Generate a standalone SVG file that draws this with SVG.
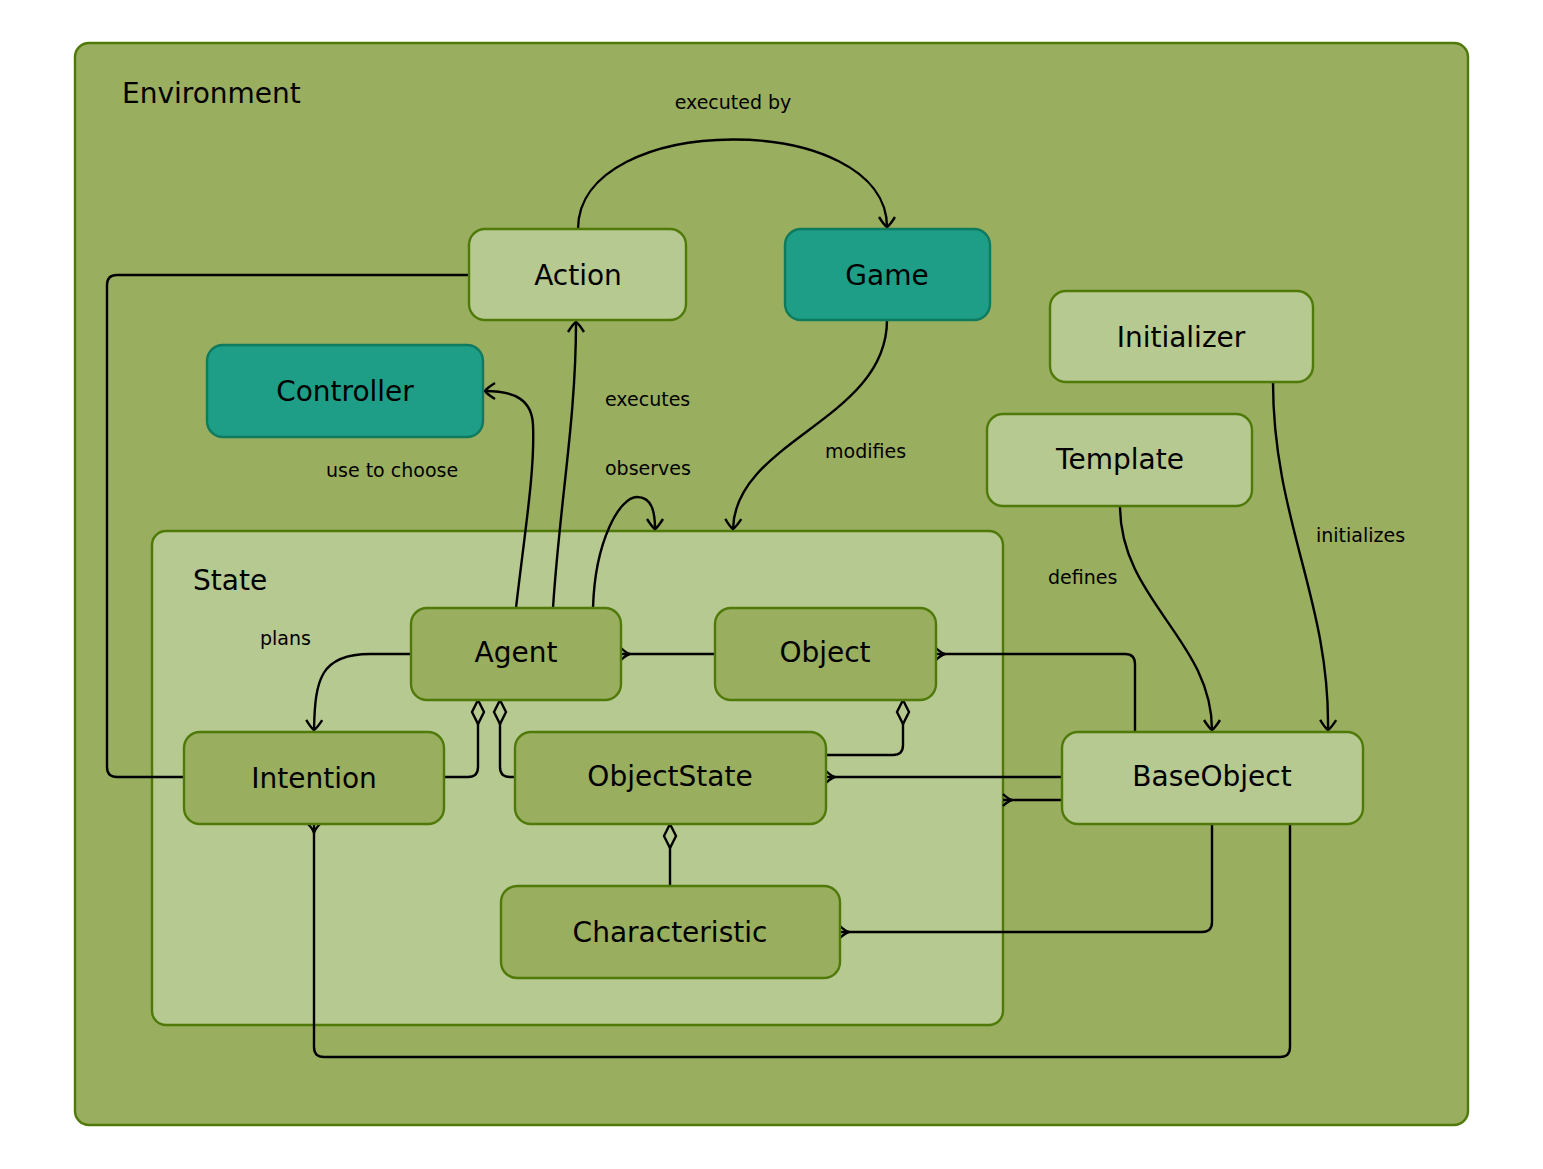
<svg xmlns="http://www.w3.org/2000/svg" width="1543" height="1169" viewBox="0 0 1543 1169">
<style>
.c{fill:none;stroke:#000;stroke-width:2.4}
.n{font-family:"DejaVu Sans",sans-serif;font-size:28px;text-anchor:middle;dominant-baseline:central}
.l{font-family:"DejaVu Sans",sans-serif;font-size:19px}
.dk{fill:#99ae5e;stroke:#4f7a0a;stroke-width:2.4}
.lt{fill:#b6c990;stroke:#4f7a0a;stroke-width:2.4}
.tl{fill:#1e9e87;stroke:#0e7a5e;stroke-width:2.4}
</style>
<defs>
<marker id="ar" markerUnits="userSpaceOnUse" orient="auto" overflow="visible" markerWidth="20" markerHeight="20"><path d="M-10,-8 Q-2,-3 0,0 Q-2,3 -10,8" fill="none" stroke="#000" stroke-width="2.4"/></marker>
<marker id="dm" markerUnits="userSpaceOnUse" orient="auto" overflow="visible" markerWidth="30" markerHeight="20"><path d="M0,0 L12,-6 L24,0 L12,6 Z" fill="#b6c990" stroke="#000" stroke-width="2.4"/></marker>
<marker id="cf" markerUnits="userSpaceOnUse" orient="auto" overflow="visible" markerWidth="20" markerHeight="20"><path d="M0,-6 Q5,-1 9,0 Q5,1 0,6" fill="none" stroke="#000" stroke-width="2.4"/></marker>
</defs>
<rect x="0" y="0" width="1543" height="1169" fill="#fff"/>
<g id="Environment"><rect x="75" y="43" width="1393" height="1082" rx="14" class="dk"/><text x="122" y="93" class="n" style="text-anchor:start">Environment</text></g>
<g id="State"><rect x="152" y="531" width="851" height="494" rx="14" class="lt"/><text x="193" y="580" class="n" style="text-anchor:start">State</text></g>
<g id="connectors">
<path class="c" d="M578,229 C578,110 887,110 887,227" marker-end="url(#ar)"/>
<path class="c" d="M469,275 L117,275 Q107,275 107,285 L107,767 Q107,777 117,777 L184,777" marker-end="url(#dm)"/>
<path class="c" d="M516,608 C525,530 535,470 533,425 C532,400 515,391 485,391" marker-end="url(#ar)"/>
<path class="c" d="M553,608 C560,500 576,420 576,322" marker-end="url(#ar)"/>
<path class="c" d="M593,608 C595,540 620,497 637,497 C652,497 655,512 655,529" marker-end="url(#ar)"/>
<path class="c" d="M887,320 C887,420 735,440 733,529" marker-end="url(#ar)"/>
<path class="c" d="M1120,506 C1120,600 1212,640 1212,730" marker-end="url(#ar)"/>
<path class="c" d="M1273,382 C1273,520 1330,600 1328,730" marker-end="url(#ar)"/>
<path class="c" d="M411,654 L370,654 C320,654 315,680 314,730" marker-end="url(#ar)"/>
<path class="c" d="M621,654 L715,654" marker-start="url(#cf)"/>
<path class="c" d="M936,654 L1125,654 Q1135,654 1135,664 L1135,732" marker-start="url(#cf)"/>
<path class="c" d="M478,700 L478,767 Q478,777 468,777 L444,777" marker-start="url(#dm)"/>
<path class="c" d="M500,700 L500,767 Q500,777 510,777 L515,777" marker-start="url(#dm)"/>
<path class="c" d="M903,700 L903,745 Q903,755 893,755 L826,755" marker-start="url(#dm)"/>
<path class="c" d="M826,777 L1062,777" marker-start="url(#cf)"/>
<path class="c" d="M1003,800 L1062,800" marker-start="url(#cf)"/>
<path class="c" d="M670,824 L670,886" marker-start="url(#dm)"/>
<path class="c" d="M840,932 L1202,932 Q1212,932 1212,922 L1212,824" marker-start="url(#cf)"/>
<path class="c" d="M314,824 L314,1047 Q314,1057 324,1057 L1280,1057 Q1290,1057 1290,1047 L1290,824" marker-start="url(#cf)"/>
<text x="733" y="109" class="l" text-anchor="middle">executed by</text>
<text x="605" y="406" class="l">executes</text>
<text x="605" y="475" class="l">observes</text>
<text x="326" y="477" class="l">use to choose</text>
<text x="825" y="458" class="l">modifies</text>
<text x="1048" y="584" class="l">defines</text>
<text x="1316" y="542" class="l">initializes</text>
<text x="260" y="645" class="l">plans</text>
</g>
<g id="Action"><rect x="469" y="229" width="217" height="91" rx="16" class="lt"/><text x="578" y="275" class="n">Action</text></g>
<g id="Game"><rect x="785" y="229" width="205" height="91" rx="16" class="tl"/><text x="887" y="275" class="n">Game</text></g>
<g id="Controller"><rect x="207" y="345" width="276" height="92" rx="16" class="tl"/><text x="345" y="391" class="n">Controller</text></g>
<g id="Initializer"><rect x="1050" y="291" width="263" height="91" rx="16" class="lt"/><text x="1181" y="337" class="n">Initializer</text></g>
<g id="Template"><rect x="987" y="414" width="265" height="92" rx="16" class="lt"/><text x="1120" y="459" class="n">Template</text></g>
<g id="Agent"><rect x="411" y="608" width="210" height="92" rx="16" class="dk"/><text x="516" y="652" class="n">Agent</text></g>
<g id="Object"><rect x="715" y="608" width="221" height="92" rx="16" class="dk"/><text x="825" y="652" class="n">Object</text></g>
<g id="Intention"><rect x="184" y="732" width="260" height="92" rx="16" class="dk"/><text x="314" y="778" class="n">Intention</text></g>
<g id="ObjectState"><rect x="515" y="732" width="311" height="92" rx="16" class="dk"/><text x="670" y="776" class="n">ObjectState</text></g>
<g id="BaseObject"><rect x="1062" y="732" width="301" height="92" rx="16" class="lt"/><text x="1212" y="776" class="n">BaseObject</text></g>
<g id="Characteristic"><rect x="501" y="886" width="339" height="92" rx="16" class="dk"/><text x="670" y="932" class="n">Characteristic</text></g>
</svg>
